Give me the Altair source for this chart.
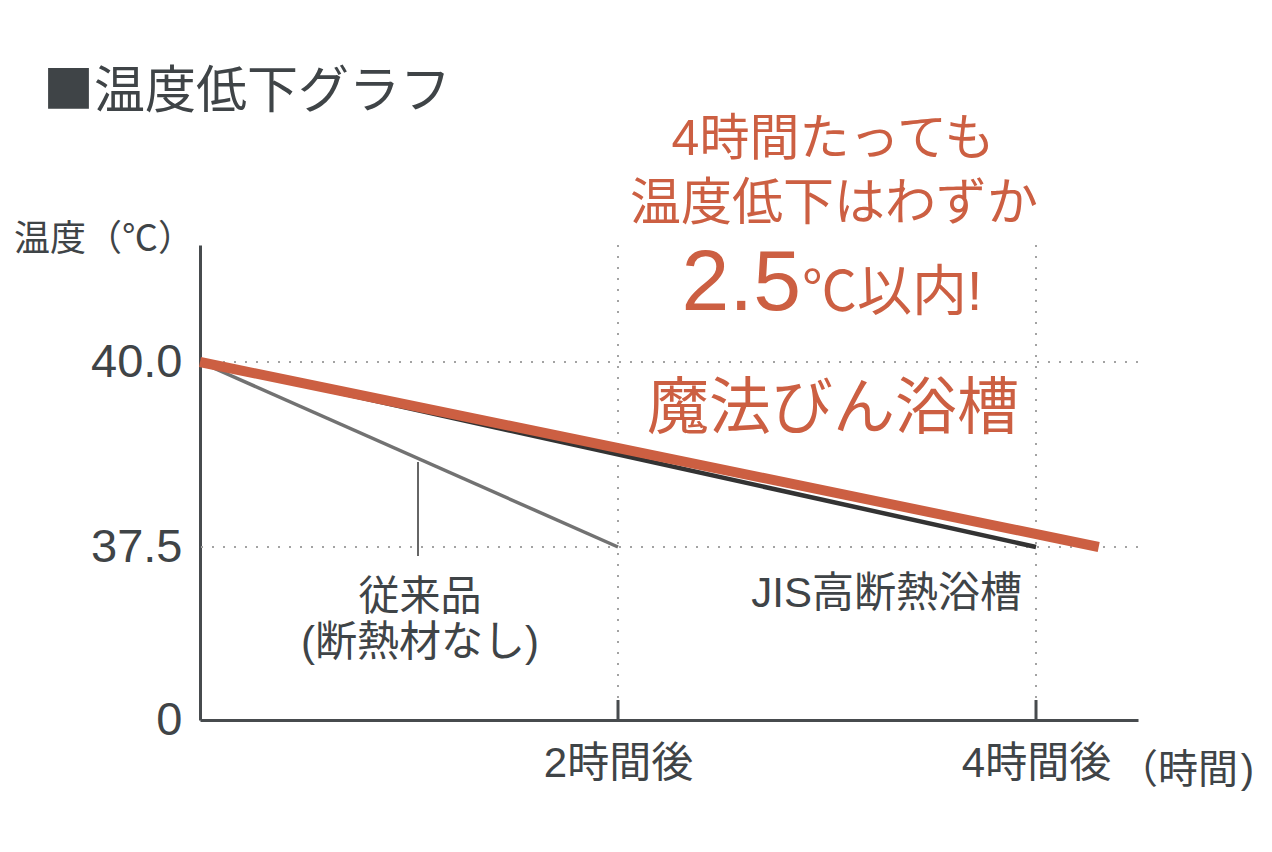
import altair as alt
import pandas as pd

# ---- data ----
series_names = ["従来品", "JIS高断熱浴槽", "魔法びん浴槽"]
conv_hours = [0, 2]
conv_temp = [40.0, 37.5]
jis_hours = [0, 4]
jis_temp = [40.0, 37.5]
magic_hours = [0, 4.3]
magic_temp = [40.0, 37.5]

y_ticks = [0, 37.5, 40.0]
x_ticks = [2, 4]
x_tick_labels = ["2時間後", "4時間後"]
grid_temps = [40.0, 37.5]

TEXT = "#3f4447"
ORANGE = "#cc5f42"
AXIS = "#474b4e"
FONT = "Liberation Sans, Noto Sans CJK JP, sans-serif"
CJK = "Noto Sans CJK JP, sans-serif"

W, H = 938, 475

xs = alt.Scale(domain=[0, 4.488], nice=False, zero=False)
ys = alt.Scale(domain=[0, 37.5, 40, 41.58], range=[H, 302, 117, 0], nice=False, zero=False)

conv = pd.DataFrame({"h": conv_hours, "t": conv_temp})
jis = pd.DataFrame({"h": jis_hours, "t": jis_temp})
magic = pd.DataFrame({"h": magic_hours, "t": magic_temp})

label_map = "{" + ",".join(f"'{v}':'{l}'" for v, l in zip(x_ticks, x_tick_labels)) + "}"

xaxis = alt.Axis(values=x_ticks, labelExpr=f"{label_map}[datum.value]", ticks=False, grid=False,
                 domainColor=AXIS, domainWidth=3, labelFontSize=42, labelColor=TEXT, labelFont=FONT,
                 labelPadding=23, labelFlush=False, labelOverlap=False, title=None)
yaxis = alt.Axis(values=y_ticks, labelExpr="datum.value == 0 ? '0' : format(datum.value, '.1f')",
                 ticks=False, grid=False, domainColor=AXIS, domainWidth=3, labelFontSize=47,
                 labelColor=TEXT, labelFont=FONT, labelPadding=18, labelFlush=False,
                 labelOverlap=False, title=None)

hgrid = alt.Chart(pd.DataFrame({"t": grid_temps})).mark_rule(
    color="#a3a3a3", strokeWidth=2, strokeDash=[2, 9]
).encode(y=alt.Y("t:Q", scale=ys, axis=yaxis))

vgrid = alt.Chart(pd.DataFrame({"h": x_ticks})).mark_rule(
    color="#a3a3a3", strokeWidth=2, strokeDash=[2, 9]
).encode(x=alt.X("h:Q", scale=xs, axis=xaxis), y=alt.value(0), y2=alt.value(H - 20))

ticks = alt.Chart(pd.DataFrame({"h": x_ticks})).mark_rule(
    color=AXIS, strokeWidth=3
).encode(x=alt.X("h:Q", scale=xs), y=alt.value(H - 20), y2=alt.value(H))

def line(df, color, width):
    return alt.Chart(df).mark_line(color=color, strokeWidth=width, strokeCap="butt").encode(
        x=alt.X("h:Q", scale=xs), y=alt.Y("t:Q", scale=ys)
    )

l_conv = line(conv, "#727272", 3.5)
l_jis = line(jis, "#333333", 4.5)
l_magic = line(magic, ORANGE, 10)

leader = alt.Chart(pd.DataFrame({"a": [0]})).mark_rule(color="#333333", strokeWidth=1.5).encode(
    x=alt.value(218), y=alt.value(217), y2=alt.value(311)
)

def txt(s, x, y, size, color=TEXT, align="center", baseline="middle", font=FONT):
    return alt.Chart(pd.DataFrame({"s": [s]})).mark_text(
        text=s, fontSize=size, color=color, align=align, baseline=baseline, font=font
    ).encode(x=alt.value(x), y=alt.value(y))

texts = [
    txt("■温度低下グラフ", -157, -152, 51, align="left", font=CJK),
    txt("温度（℃）", -186, -5, 36, align="left", font=CJK),
    txt("（時間", 918, 526, 40, align="left", font=CJK),
    txt(")", 1054, 526, 40, align="right", font=FONT),
    txt("4時間たっても", 633, -105, 50, color=ORANGE),
    txt("温度低下はわずか", 634, -40, 51, color=ORANGE),
    txt("2.5", 601, 65, 86, color=ORANGE, align="right", baseline="alphabetic"),
    txt("℃以内!", 602, 65, 55, color=ORANGE, align="left", baseline="alphabetic"),
    txt("魔法びん浴槽", 633, 165, 62, color=ORANGE),
    txt("従来品", 220, 353, 41),
    txt("(断熱材なし)", 220, 398, 42),
    txt("JIS高断熱浴槽", 822, 349, 42, align="right"),
]

chart = alt.layer(hgrid, vgrid, ticks, leader, l_conv, l_jis, l_magic, *texts).properties(
    width=W, height=H,
    autosize=alt.AutoSizeParams(type="none"),
    padding={"left": 192, "top": 237, "right": 126, "bottom": 124},
    background="white",
).configure_view(stroke=None)

chart.save("out.html", embed_options={"renderer": "svg", "actions": False})
